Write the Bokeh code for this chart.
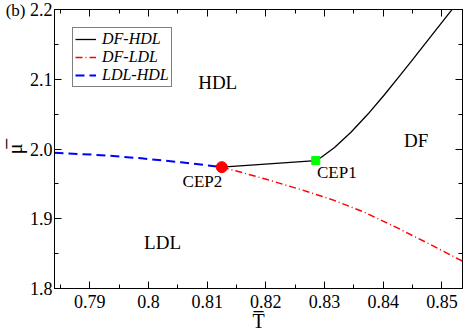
from bokeh.plotting import figure
from bokeh.models import Range1d, LinearAxis, FixedTicker, Legend, LegendItem
from bokeh.core.properties import value
from bokeh.embed import file_html
from bokeh.resources import INLINE

# ---- data ----
# DF-HDL coexistence line (black solid), from CEP2 through CEP1 upward
df_hdl_T = [0.8125, 0.8205, 0.8285, 0.8294, 0.8317, 0.8345, 0.8374, 0.8402, 0.8430, 0.8447, 0.8517]
df_hdl_mu = [1.9740, 1.9787, 1.9834, 1.9879, 2.0022, 2.0240, 2.0501, 2.0778, 2.1069, 2.1249, 2.1998]

# DF-LDL coexistence line (red dash-dot)
df_ldl_T = [0.8125, 0.8150, 0.8201, 0.8257, 0.8314, 0.8368, 0.8425, 0.8481, 0.8535]
df_ldl_mu = [1.9740, 1.9685, 1.9565, 1.9425, 1.9271, 1.9093, 1.8865, 1.8627, 1.8392]

# LDL-HDL coexistence line (blue dashed)
ldl_hdl_T = [0.7840, 0.7920, 0.7988, 0.8056, 0.8125]
ldl_hdl_mu = [1.9947, 1.9912, 1.9866, 1.9810, 1.9740]

# critical end points
cep2_T, cep2_mu = [0.8125], [1.9740]
cep1_T, cep1_mu = [0.8285], [1.9834]

# phase / point labels
region_names = ["HDL", "DF", "LDL"]
region_T = [0.8118, 0.8456, 0.8024]
region_mu = [2.095, 2.012, 1.866]
cep_names = ["CEP2", "CEP1"]
cep_label_T = [0.8092, 0.8321]
cep_label_mu = [1.9537, 1.9670]

# axes
x_ticks = [0.79, 0.80, 0.81, 0.82, 0.83, 0.84, 0.85]
x_tick_labels = ["0.79", "0.8", "0.81", "0.82", "0.83", "0.84", "0.85"]
x_minor = [0.785, 0.795, 0.805, 0.815, 0.825, 0.835, 0.845]
y_ticks = [1.8, 1.9, 2.0, 2.1, 2.2]
y_tick_labels = ["1.8", "1.9", "2.0", "2.1", "2.2"]
y_minor = [1.85, 1.95, 2.05, 2.15]
x_lim = (0.784, 0.8535)
y_lim = (1.8, 2.2)
panel_tag = "(b)"
x_title = "T\u0305"
y_title = "\u03bc\u0305"

SERIF = "Liberation Serif"

p = figure(width=463, height=334, output_backend="svg", toolbar_location=None,
           x_range=Range1d(*x_lim), y_range=Range1d(*y_lim),
           min_border_left=53, min_border_right=1, min_border_top=9, min_border_bottom=40)
p.grid.visible = False
p.outline_line_color = "black"
p.background_fill_color = "white"
p.border_fill_color = "white"


def style_axis(ax, ticks, minor, labels, show_labels):
    ax.ticker = FixedTicker(ticks=ticks, minor_ticks=minor)
    ax.axis_line_color = "black"
    ax.major_tick_line_color = "black"
    ax.minor_tick_line_color = "black"
    ax.major_tick_in = 7
    ax.major_tick_out = 0
    ax.minor_tick_in = 4
    ax.minor_tick_out = 0
    if show_labels:
        ax.major_label_overrides = {t: l for t, l in zip(ticks, labels)}
        ax.major_label_text_font = SERIF
        ax.major_label_text_font_size = "18px"
        ax.major_label_text_color = "black"
        ax.major_label_standoff = 6
    else:
        ax.major_label_text_font_size = "0px"
        ax.major_label_text_alpha = 0
        ax.major_label_standoff = 0


xa = p.xaxis[0]
ya = p.yaxis[0]
style_axis(xa, x_ticks, x_minor, x_tick_labels, True)
style_axis(ya, y_ticks, y_minor, y_tick_labels, True)
xa.axis_label = x_title
xa.axis_label_text_font = SERIF
xa.axis_label_text_font_size = "20px"
xa.axis_label_text_font_style = "normal"
xa.axis_label_text_color = "black"
xa.axis_label_standoff = -1
ya.major_label_standoff = 2

# outer left axis: carries the panel tag "(b)" beside 2.2 and the rotated mu-bar title
tag_ax = LinearAxis(ticker=FixedTicker(ticks=[y_lim[1]], minor_ticks=[]),
                    major_label_overrides={y_lim[1]: panel_tag})
tag_ax.axis_line_color = None
tag_ax.major_tick_line_color = None
tag_ax.minor_tick_line_color = None
tag_ax.major_tick_in = 0
tag_ax.major_tick_out = 0
tag_ax.minor_tick_in = 0
tag_ax.minor_tick_out = 0
tag_ax.major_label_standoff = 1
tag_ax.major_label_text_font = SERIF
tag_ax.major_label_text_font_size = "17px"
tag_ax.major_label_text_color = "black"
tag_ax.axis_label = y_title
tag_ax.axis_label_text_font = SERIF
tag_ax.axis_label_text_font_size = "20px"
tag_ax.axis_label_text_font_style = "normal"
tag_ax.axis_label_text_color = "black"
tag_ax.axis_label_standoff = -23
p.add_layout(tag_ax, "left")

top_ax = LinearAxis()
right_ax = LinearAxis()
style_axis(top_ax, x_ticks, x_minor, x_tick_labels, False)
style_axis(right_ax, y_ticks, y_minor, y_tick_labels, False)
p.add_layout(top_ax, "above")
p.add_layout(right_ax, "right")

r_black = p.line(df_hdl_T, df_hdl_mu, line_color="black", line_width=1.3)
r_red = p.line(df_ldl_T, df_ldl_mu, line_color="red", line_width=1.5, line_dash="7 3 1 3")
r_blue = p.line(ldl_hdl_T, ldl_hdl_mu, line_color="blue", line_width=2, line_dash="9 5")

p.scatter(cep2_T, cep2_mu, marker="circle", size=11, fill_color="red", line_color="red")
p.scatter(cep1_T, cep1_mu, marker="square", size=8, fill_color="#00ff00", line_color="#00ff00")

p.text(x=region_T, y=region_mu, text=region_names, text_font=value(SERIF),
       text_font_size="19px", text_align="center", text_baseline="middle", text_color="black")
p.text(x=cep_label_T, y=cep_label_mu, text=cep_names, text_font=value(SERIF),
       text_font_size="17px", text_align="center", text_baseline="middle", text_color="black")

legend = Legend(items=[
    LegendItem(label="DF-HDL", renderers=[r_black]),
    LegendItem(label="DF-LDL", renderers=[r_red]),
    LegendItem(label="LDL-HDL", renderers=[r_blue]),
], location="top_left")
legend.margin = 18
legend.padding = 2
legend.spacing = 0
legend.glyph_width = 21
legend.glyph_height = 12
legend.label_height = 12
legend.label_standoff = 6
legend.label_text_font = SERIF
legend.label_text_font_style = "italic"
legend.label_text_font_size = "16px"
legend.label_text_color = "black"
legend.border_line_color = "black"
legend.background_fill_color = "white"
legend.background_fill_alpha = 1
p.add_layout(legend)

with open("out.html", "w") as f:
    f.write(file_html(p, INLINE))
